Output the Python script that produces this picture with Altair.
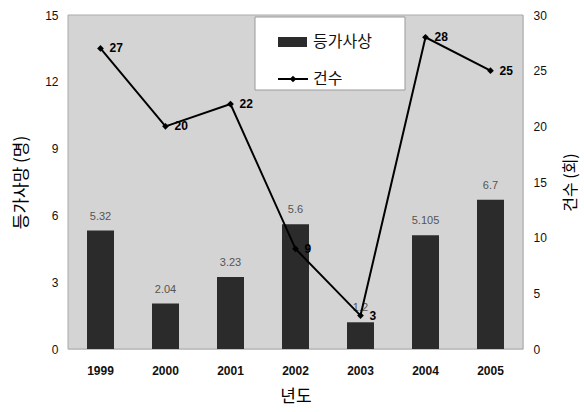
import altair as alt
import pandas as pd

years = ["1999", "2000", "2001", "2002", "2003", "2004", "2005"]
deaths = [5.32, 2.04, 3.23, 5.6, 1.2, 5.105, 6.7]
death_labels = ["5.32", "2.04", "3.23", "5.6", "1.2", "5.105", "6.7"]
counts = [27, 20, 22, 9, 3, 28, 25]

df = pd.DataFrame({"year": years, "deaths": deaths, "dlabel": death_labels, "count": counts})

FONT = "Liberation Sans, Arial, 'Noto Sans CJK KR'"

x = alt.X("year:N", scale=alt.Scale(paddingInner=0, paddingOuter=0),
          axis=alt.Axis(title="년도", labelAngle=0, labelFontWeight="bold", labelFontSize=12,
                        labelPadding=16, ticks=False, domain=False, titleFontSize=17,
                        titleFontWeight="normal", titlePadding=12, labelColor="#111",
                        titleFont="Noto Sans CJK KR"))

yl = alt.Y("deaths:Q", scale=alt.Scale(domain=[0, 15]),
           axis=alt.Axis(title="등가사망 (명)", values=[0, 3, 6, 9, 12, 15], grid=False,
                         ticks=False, domain=False, labelPadding=10, labelFontSize=12,
                         titleFontSize=17, titleFontWeight="normal", titlePadding=14,
                         labelColor="#111", titleFont="Noto Sans CJK KR"))

yr = alt.Y("count:Q", scale=alt.Scale(domain=[0, 30]),
           axis=alt.Axis(orient="right", title="건수 (회)", values=[0, 5, 10, 15, 20, 25, 30],
                         grid=False, ticks=False, domain=False, labelPadding=10,
                         labelFontSize=12, titleFontSize=16, titleFontWeight="normal",
                         titleAngle=270, titlePadding=32, labelColor="#111",
                         titleFont="Noto Sans CJK KR"))

one = pd.DataFrame({"a": [0]})
bg = alt.Chart(one).mark_rect(fill="#d4d4d4", stroke="#aaa").encode(
    x=alt.value(0), x2=alt.value(455), y=alt.value(0), y2=alt.value(334))

bars = alt.Chart(df).mark_bar(size=27, color="#2b2b2b").encode(x=x, y=yl)
bar_text = alt.Chart(df).mark_text(dy=-9, baseline="bottom", fontSize=11, color="#555").encode(
    x=x, y=yl, text="dlabel:N")
left = alt.layer(bars, bar_text)

line = alt.Chart(df).mark_line(color="black", strokeWidth=2).encode(x=x, y=yr)
pts = alt.Chart(df).mark_point(shape="diamond", filled=True, color="black", size=45, opacity=1).encode(
    x=x, y=yr)
line_text = alt.Chart(df).mark_text(dx=9, align="left", baseline="middle", fontSize=12,
                                    fontWeight="bold", color="black").encode(
    x=x, y=yr, text="count:Q")
right = alt.layer(line, pts, line_text)

# legend (plot-area coordinates: origin at plot top-left)
leg_box = alt.Chart(one).mark_rect(fill="white", stroke="#999", strokeWidth=1).encode(
    x=alt.value(187), x2=alt.value(337), y=alt.value(2), y2=alt.value(75))
leg_sq = alt.Chart(one).mark_rect(fill="#2b2b2b").encode(
    x=alt.value(210), x2=alt.value(239), y=alt.value(22), y2=alt.value(32))
leg_t1 = alt.Chart(one).mark_text(align="left", baseline="middle", fontSize=16,
                                  font="Noto Sans CJK KR", color="#111").encode(
    x=alt.value(245), y=alt.value(27), text=alt.value("등가사상"))
leg_ln = alt.Chart(one).mark_rule(color="black", strokeWidth=2).encode(
    x=alt.value(210), x2=alt.value(240), y=alt.value(64))
leg_pt = alt.Chart(one).mark_point(shape="diamond", filled=True, color="black", size=45, opacity=1).encode(
    x=alt.value(225), y=alt.value(64))
leg_t2 = alt.Chart(one).mark_text(align="left", baseline="middle", fontSize=16,
                                  font="Noto Sans CJK KR", color="#111").encode(
    x=alt.value(245), y=alt.value(64), text=alt.value("건수"))
legend = alt.layer(leg_box, leg_sq, leg_t1, leg_ln, leg_pt, leg_t2)

chart = alt.layer(bg, left, legend, right).resolve_scale(
    y="independent"
).properties(
    width=455, height=334,
    autosize=alt.AutoSizeParams(type="none"),
    padding={"left": 68, "top": 15, "right": 61, "bottom": 63},
    background="white",
).configure_view(stroke=None).configure(font=FONT)

chart.save("out.html", embed_options={"renderer": "svg", "actions": False})
